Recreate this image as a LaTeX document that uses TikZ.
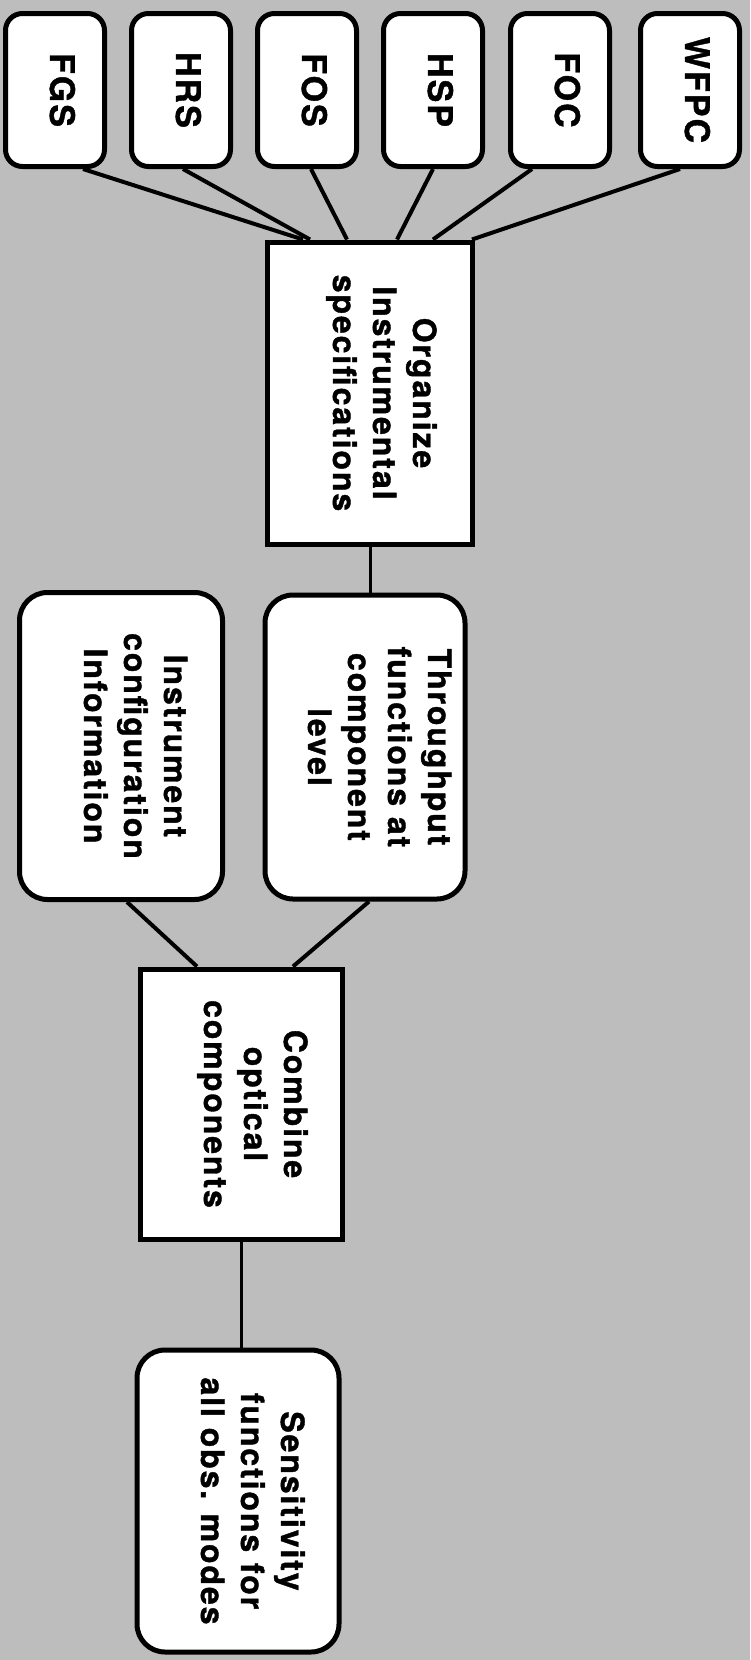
\documentclass[tikz,border=0pt]{standalone}
\usepackage{fontspec}
\newfontfamily\boxfont{TeX Gyre Heros}[LetterSpace=6, BoldFeatures={FakeBold=1.2}]
\newcommand{\vtext}[2][22pt]{\hspace*{#1}\rotatebox{-90}{\begin{tabular}{@{}c@{}}#2\end{tabular}}}
\definecolor{halftone}{gray}{0.74}
\tikzset{
  instr/.style={draw, line width=5pt, fill=white, rounded corners=17pt,
    minimum width=99pt, minimum height=153pt, inner sep=0pt,
    font=\boxfont\bfseries\fontsize{34}{40}\selectfont},
  process/.style={draw, line width=5pt, fill=white, inner sep=0pt,
    font=\boxfont\bfseries\fontsize{32}{40}\selectfont},
  data/.style={process, rounded corners=28pt},
  link/.style={line width=4pt}
}
\begin{document}
\begin{tikzpicture}[x=1pt,y=-1pt]
\fill[halftone] (0,0) rectangle (750,1660);

\node[process, minimum width=205pt, minimum height=302pt] (org) at (370,393) {\vtext{Organize\\Instrumental\\specifications}};
\foreach \n/\x/\a/\b in {FGS/55/28/-67, HRS/181/2/-60, FOS/307/4/-23, HSP/433/0/27, FOC/560/-28/63, WFPC/690/-10/102} {
  \node[instr] (\n) at (\x,90) {\vtext[6pt]{\n}};
  \draw[link] ([xshift=\a]\n.south) -- ([xshift=\b]org.north);
}

\node[data, minimum width=200pt, minimum height=304pt] (thr) at (365,747) {\vtext{Throughput\\functions at\\component\\level}};
\node[data, minimum width=203pt, minimum height=307pt] (cfg) at (121,746) {\vtext{Instrument\\configuration\\Information}};
\node[process, minimum width=202pt, minimum height=270pt] (comb) at (241,1104) {\vtext{Combine\\optical\\components}};
\node[data, minimum width=202pt, minimum height=302pt] (sens) at (238,1501) {\vtext{Sensitivity\\functions for\\all obs. modes}};

\draw[line width=3pt] (org.south) -- (org.south |- thr.north);
\draw[link] ([xshift=6]cfg.south) -- ([xshift=-44]comb.north);
\draw[link] ([xshift=4]thr.south) -- ([xshift=52]comb.north);
\draw[line width=3pt] (comb.south) -- (comb.south |- sens.north);
\end{tikzpicture}
\end{document}
